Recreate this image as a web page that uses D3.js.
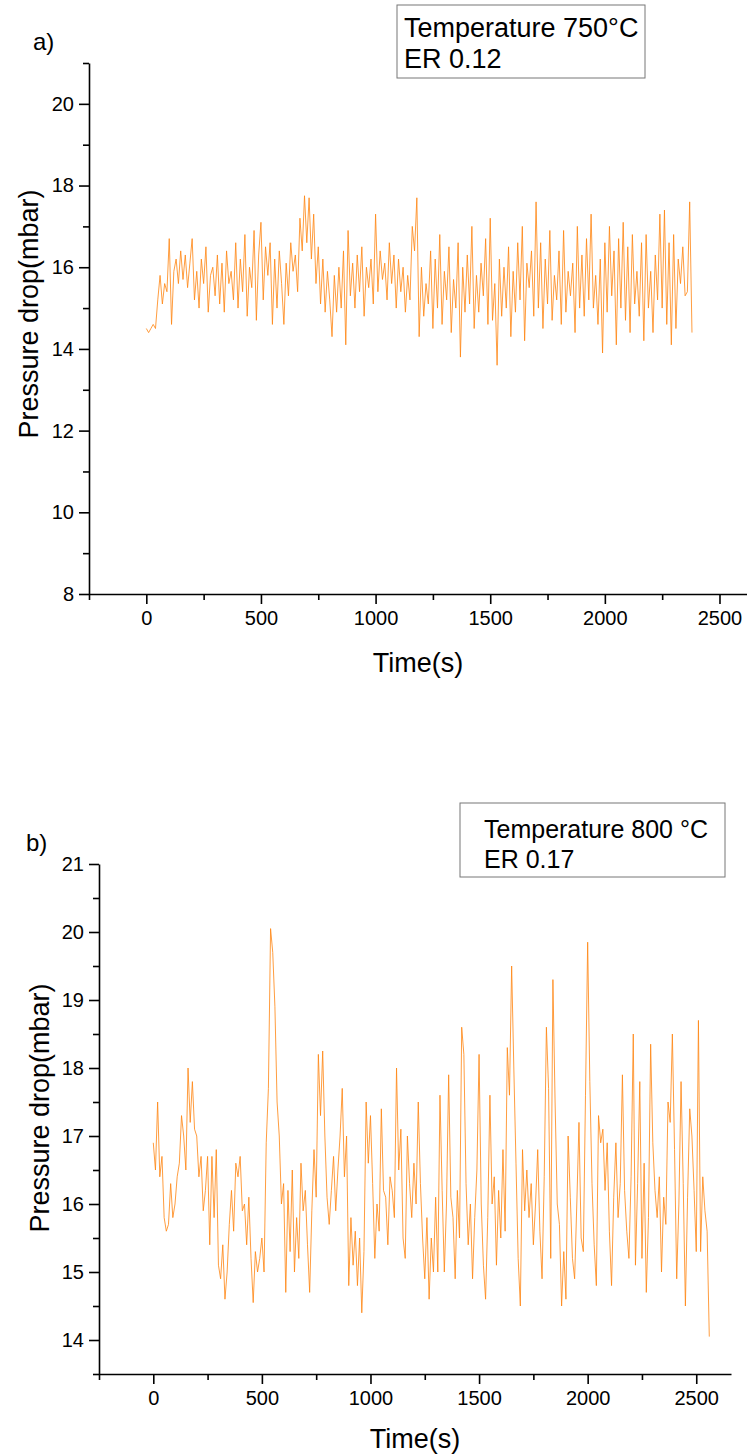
<!DOCTYPE html>
<html>
<head>
<meta charset="utf-8">
<script src="https://cdn.jsdelivr.net/npm/d3@7"></script>
<style>
  body { margin: 0; background: #fff; }
  svg text { font-family: "Liberation Sans", Arial, sans-serif; fill: #000; }
</style>
</head>
<body>
<svg id="chart" width="747" height="1456"></svg>
<script>
// panel a) 750 C, ER 0.12 -- one reading every 10 s starting at t = 0
var stepA = 10;
var pressureA = [
  14.5, 14.4, 14.5, 14.6, 14.5, 15.2, 15.8, 15.1, 15.6, 15.4,
  16.7, 14.6, 15.9, 16.2, 15.6, 16.4, 15.7, 16.3, 15.5, 16.1,
  16.7, 15.2, 15.9, 15.0, 16.2, 15.6, 16.5, 14.9, 15.8, 16.0,
  15.3, 16.3, 15.1, 16.1, 14.9, 16.4, 15.6, 15.9, 15.2, 16.6,
  15.0, 16.2, 15.4, 16.8, 14.8, 16.0, 15.5, 16.9, 14.7, 16.3,
  17.1, 15.2, 16.5, 15.8, 16.6, 14.6, 16.2, 15.0, 16.4, 15.6,
  14.6, 16.1, 15.3, 16.6, 15.9, 16.3, 15.4, 17.2, 16.4, 17.75,
  16.6, 17.7, 16.2, 17.3, 15.6, 16.5, 15.1, 16.2, 14.9, 15.9,
  15.2, 14.3, 15.8, 14.9, 16.0, 15.0, 16.4, 14.1, 16.9, 15.3,
  16.1, 15.0, 16.3, 15.4, 16.5, 14.8, 16.0, 15.5, 16.2, 15.1,
  17.3, 15.4, 16.4, 15.7, 16.1, 15.2, 16.6, 15.6, 16.3, 15.0,
  16.2, 15.4, 16.0, 14.9, 15.8, 15.2, 17.0, 16.4, 17.7, 14.3,
  16.0, 14.8, 15.6, 15.1, 16.4, 14.5, 16.2, 15.0, 16.8, 14.6,
  15.9, 15.2, 16.5, 14.4, 15.7, 15.0, 16.6, 13.8, 16.0, 14.9,
  16.3, 15.1, 17.0, 14.5, 15.8, 14.9, 16.1, 15.3, 16.7, 14.6,
  17.2, 14.7, 15.6, 13.6, 16.2, 14.8, 16.0, 15.0, 16.5, 14.3,
  15.9, 14.9, 16.6, 15.2, 17.0, 14.2, 16.1, 15.5, 16.4, 14.8,
  17.6, 15.0, 16.6, 14.5, 16.2, 15.1, 16.9, 14.7, 15.8, 15.2,
  16.4, 14.6, 16.9, 14.9, 15.9, 15.3, 16.1, 14.4, 17.0, 15.0,
  16.3, 14.8, 16.7, 15.2, 17.3, 15.0, 15.8, 14.6, 16.2, 13.9,
  16.6, 14.9, 17.0, 15.3, 16.4, 14.1, 16.7, 15.0, 17.1, 14.7,
  16.5, 14.4, 16.8, 15.1, 15.9, 14.8, 16.6, 14.2, 16.8, 15.0,
  15.9, 14.4, 16.3, 15.2, 17.3, 15.0, 17.4, 14.6, 16.6, 14.1,
  16.8, 14.5, 16.2, 15.6, 16.5, 15.3, 15.4, 17.6, 14.4
];

// panel b) 800 C, ER 0.17 -- one reading every 10 s starting at t = 0
var stepB = 10;
var pressureB = [
  16.9, 16.5, 17.5, 16.4, 16.7, 15.8, 15.6, 15.7, 16.3, 15.8,
  16.0, 16.4, 16.6, 17.3, 17.0, 16.5, 18.0, 17.2, 17.8, 17.1,
  17.0, 16.4, 16.7, 15.9, 16.2, 16.7, 15.4, 16.7, 15.8, 16.8,
  15.1, 14.9, 15.4, 14.6, 15.0, 15.7, 16.2, 15.6, 16.6, 16.4,
  16.7, 15.9, 16.0, 15.4, 16.1, 15.2, 14.55, 15.3, 15.0, 15.2,
  15.5, 15.0, 16.9, 17.7, 20.05, 19.7, 18.9, 17.5, 17.0, 16.0,
  16.3, 14.7, 16.2, 15.3, 16.5, 15.0, 15.8, 15.2, 16.6, 15.9,
  16.2, 15.4, 14.7, 15.9, 16.8, 16.1, 18.2, 17.3, 18.25, 17.0,
  16.1, 15.7, 16.2, 16.7, 15.9, 16.5, 17.0, 17.7, 16.4, 17.0,
  14.8, 15.8, 15.1, 15.6, 14.8, 15.5, 14.4, 15.3, 17.5, 16.6,
  17.3, 16.3, 15.2, 16.0, 15.6, 17.4, 16.2, 16.1, 15.4, 16.4,
  16.2, 15.8, 18.0, 16.5, 17.1, 15.5, 15.2, 17.0, 16.3, 15.8,
  16.6, 16.0, 17.5, 16.3, 15.5, 14.9, 15.8, 14.6, 15.5, 15.0,
  16.1, 15.0, 17.6, 16.2, 15.0, 16.0, 17.9, 16.1, 15.8, 14.9,
  16.2, 15.5, 18.6, 18.2, 16.3, 15.4, 16.0, 14.9, 15.8, 16.5,
  18.2, 16.0, 15.1, 14.6, 15.8, 17.6, 16.0, 16.4, 15.1, 16.2,
  15.5, 16.8, 15.6, 18.3, 17.6, 19.5, 18.0, 16.6, 15.2, 14.5,
  16.8, 15.9, 16.5, 15.8, 16.3, 15.4, 16.0, 16.8, 15.6, 14.9,
  16.4, 18.6, 17.7, 15.2, 19.3, 17.5, 16.0, 15.7, 14.5, 15.3,
  14.6, 17.0, 16.1, 15.2, 14.9, 16.0, 17.2, 15.5, 15.3, 17.6,
  19.85, 17.8, 16.3, 15.4, 14.8, 17.3, 16.9, 17.1, 16.2, 16.9,
  15.6, 14.8, 16.1, 16.9, 15.8, 16.3, 17.9, 16.2, 15.6, 15.2,
  16.4, 18.5, 15.1, 16.3, 17.8, 15.2, 16.6, 14.7, 15.8, 18.35,
  16.9, 16.2, 15.8, 16.4, 15.0, 16.1, 15.7, 17.5, 17.2, 18.5,
  16.8, 14.9, 16.0, 17.8, 16.3, 14.5, 16.1, 17.4, 17.0, 16.2,
  15.3, 18.7, 15.3, 16.4, 15.9, 15.6, 14.05
];

var xMajor = [0, 500, 1000, 1500, 2000, 2500];
var xMinor = [-250, 250, 750, 1250, 1750, 2250];
var yMajorA = [8, 10, 12, 14, 16, 18, 20];
var yMinorA = [9, 11, 13, 15, 17, 19, 21];
var yMajorB = [14, 15, 16, 17, 18, 19, 20, 21];
var yMinorB = [13.5, 14.5, 15.5, 16.5, 17.5, 18.5, 19.5, 20.5];

var svg = d3.select("#chart");
var lineColor = "#ff8612";

var panels = [
  {
    tag: "a)", values: pressureA, step: stepA,
    xDomain: [-250, 2620], xRange: [89, 747],
    yDomain: [8, 21], yRange: [594, 63],
    yMajor: yMajorA, yMinor: yMinorA,
    legend: ["Temperature 750\u00b0C", "ER 0.12"],
    box: [397, 5, 248, 73], legendX: 404, legendY: [37, 68], legendSize: 27,
    tagPos: [33, 50], yTitle: [29, 314], xTitleY: 672
  },
  {
    tag: "b)", values: pressureB, step: stepB,
    xDomain: [-250, 2660], xRange: [99, 731],
    yDomain: [13.5, 21], yRange: [1374, 864],
    yMajor: yMajorB, yMinor: yMinorB,
    legend: ["Temperature 800 \u00b0C", "ER 0.17"],
    box: [460, 803, 265, 74], legendX: 484, legendY: [838, 868], legendSize: 25,
    tagPos: [26, 851], yTitle: [40, 1108], xTitleY: 1448
  }
];

panels.forEach(function (p) {
  var x = d3.scaleLinear().domain(p.xDomain).range(p.xRange);
  var y = d3.scaleLinear().domain(p.yDomain).range(p.yRange);
  var g = svg.append("g");

  var line = d3.line()
    .x(function (d, i) { return x(i * p.step); })
    .y(function (d) { return y(d); });

  g.append("path")
    .datum(p.values)
    .attr("fill", "none")
    .attr("stroke", lineColor)
    .attr("stroke-width", 0.9)
    .attr("stroke-opacity", 0.9)
    .attr("d", line);

  // minor ticks first, then the labelled axes over them
  g.append("g")
    .attr("transform", "translate(0," + p.yRange[0] + ")")
    .call(d3.axisBottom(x).tickValues(xMinor).tickSize(6).tickFormat(""))
    .call(function (a) { a.select(".domain").remove(); });
  g.append("g")
    .attr("transform", "translate(" + p.xRange[0] + ",0)")
    .call(d3.axisLeft(y).tickValues(p.yMinor).tickSize(6).tickFormat(""))
    .call(function (a) { a.select(".domain").remove(); });

  var xAxis = g.append("g")
    .attr("transform", "translate(0," + p.yRange[0] + ")")
    .call(d3.axisBottom(x).tickValues(xMajor).tickFormat(d3.format("d"))
      .tickSize(10).tickPadding(7).tickSizeOuter(0));
  var yAxis = g.append("g")
    .attr("transform", "translate(" + p.xRange[0] + ",0)")
    .call(d3.axisLeft(y).tickValues(p.yMajor).tickFormat(d3.format("d"))
      .tickSize(10).tickPadding(5).tickSizeOuter(0));

  [xAxis, yAxis].forEach(function (a) {
    a.selectAll("path, line").attr("stroke", "#000").attr("stroke-width", 1.6);
    a.selectAll("text").attr("font-size", 20).attr("fill", "#000");
  });
  g.selectAll("line").attr("stroke", "#000").attr("stroke-width", 1.6);

  g.append("text")
    .attr("x", (p.xRange[0] + p.xRange[1]) / 2)
    .attr("y", p.xTitleY)
    .attr("text-anchor", "middle")
    .attr("font-size", 27)
    .text("Time(s)");

  g.append("text")
    .attr("transform", "translate(" + p.yTitle[0] + "," + p.yTitle[1] + ") rotate(-90)")
    .attr("text-anchor", "middle")
    .attr("dy", "0.35em")
    .attr("font-size", 27)
    .text("Pressure drop(mbar)");

  g.append("text")
    .attr("x", p.tagPos[0])
    .attr("y", p.tagPos[1])
    .attr("font-size", 24)
    .text(p.tag);

  g.append("rect")
    .attr("x", p.box[0]).attr("y", p.box[1])
    .attr("width", p.box[2]).attr("height", p.box[3])
    .attr("fill", "#fff")
    .attr("stroke", "#777")
    .attr("stroke-width", 1);

  g.selectAll(".leg")
    .data(p.legend)
    .enter().append("text")
    .attr("class", "leg")
    .attr("x", p.legendX)
    .attr("y", function (d, i) { return p.legendY[i]; })
    .attr("font-size", p.legendSize)
    .text(function (d) { return d; });
});
</script>
</body>
</html>
